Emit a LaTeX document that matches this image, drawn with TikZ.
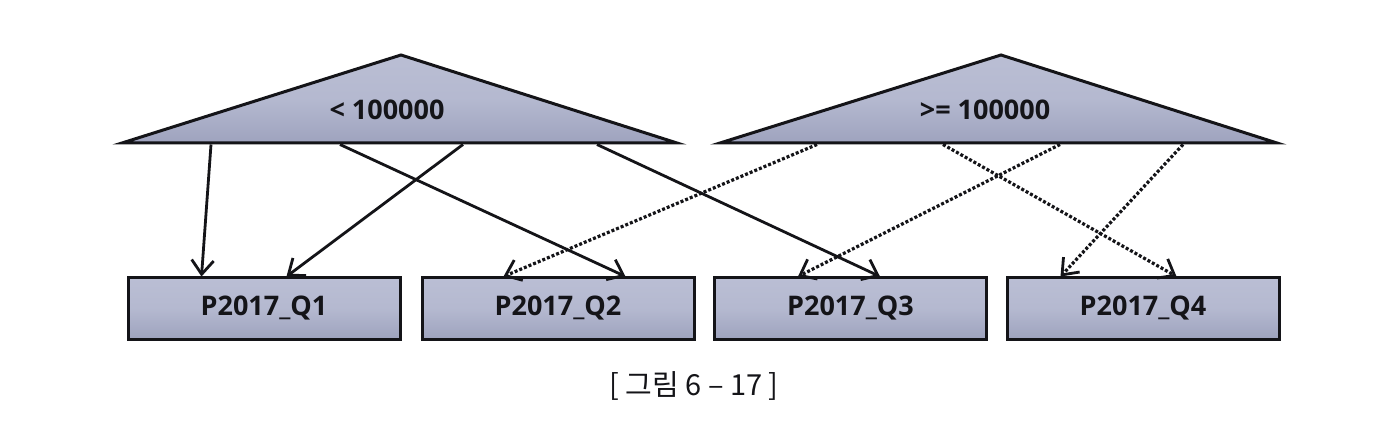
\documentclass[tikz,border=0pt]{standalone}
\usepackage{fontspec}
\setmainfont{Open Sans}
\newfontfamily\krfont{Noto Sans CJK KR}
\usetikzlibrary{arrows.meta,calc}
\definecolor{fillA}{RGB}{186,190,212}
\definecolor{fillB}{RGB}{158,163,190}
\definecolor{ink}{RGB}{20,20,24}
\tikzset{
  shade box/.style={draw=ink, line width=3pt, top color=fillA, bottom color=fillB, middle color=fillA!80!fillB},
  part/.style={shade box, rectangle, minimum width=272pt, minimum height=61pt, inner sep=0pt,
     font=\fontsize{27}{30}\selectfont\bfseries, text=ink},
  tri label/.style={font=\fontsize{27}{30}\selectfont\bfseries, text=ink, inner sep=0pt},
  solidarrow/.style={draw=ink, line width=2.8pt, -{Straight Barb[length=14pt,width=22pt,line width=2.8pt]}},
  dotarrow/.style={draw=ink, line width=3.2pt, dash pattern=on 3pt off 2pt, -{Straight Barb[length=14pt,width=22pt,line width=2.8pt,sep=0pt]}},
}
\begin{document}
\begin{tikzpicture}[x=1pt,y=-1pt]
\useasboundingbox[fill=white] (0,0) rectangle (1392,446);
% triangles
\coordinate (t1l) at (122,143);
\coordinate (t1a) at (401,55);
\coordinate (t1r) at (677,143);
\coordinate (t2l) at (720,143);
\coordinate (t2a) at (1001,55);
\coordinate (t2r) at (1277,143);
\path[shade box, line join=miter] (t1l) -- (t1a) -- (t1r) -- cycle;
\path[shade box, line join=miter] (t2l) -- (t2a) -- (t2r) -- cycle;
\node[tri label] (lt) at (387,110) {< 100000};
\node[tri label] (ge) at (985,110) {>= 100000};
% partitions
\node[part] (q1) at (264,308.5) {P2017\_Q1};
\node[part] (q2) at (558,308.5) {P2017\_Q2};
\node[part] (q3) at (850.5,308.5) {P2017\_Q3};
\node[part] (q4) at (1143,308.5) {P2017\_Q4};
% sources on triangle bases
\coordinate (s1) at (211,144.5);
\coordinate (s2) at (463,144.5);
\coordinate (s3) at (340,144.5);
\coordinate (s4) at (597,144.5);
\coordinate (d1) at (817,144.5);
\coordinate (d2) at (1060,144.5);
\coordinate (d3) at (943,144.5);
\coordinate (d4) at (1183,144.5);
% targets on box tops
\coordinate (e1) at ($(q1.north west)+(75,0)$);
\coordinate (e2) at ($(q1.north west)+(160,0)$);
\coordinate (e3) at ($(q2.north west)+(83,0)$);
\coordinate (e4) at ($(q2.north west)+(205,0)$);
\coordinate (e5) at ($(q3.north west)+(85,0)$);
\coordinate (e6) at ($(q3.north west)+(167,0)$);
\coordinate (e7) at ($(q4.north west)+(55,0)$);
\coordinate (e8) at ($(q4.north west)+(171,0)$);
\draw[solidarrow] (s1) -- (e1);
\draw[solidarrow] (s2) -- (e2);
\draw[solidarrow] (s3) -- (e4);
\draw[solidarrow] (s4) -- (e6);
\draw[dotarrow] (d1) -- (e3);
\draw[dotarrow] (d2) -- (e5);
\draw[dotarrow] (d3) -- (e8);
\draw[dotarrow] (d4) -- (e7);
% caption
\node[font=\fontsize{29}{32}\selectfont\krfont, text=ink] (cap) at (694,386) {[ 그림 6 – 17 ]};
\end{tikzpicture}
\end{document}
